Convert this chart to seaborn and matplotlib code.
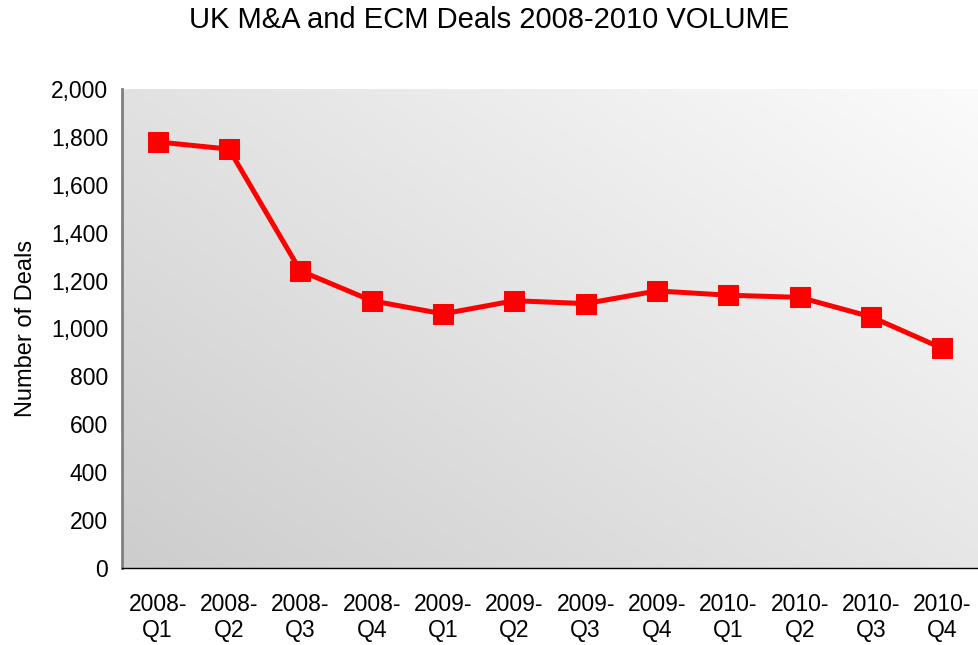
import numpy as np
import pandas as pd
import matplotlib
matplotlib.use("Agg")
import matplotlib.pyplot as plt
import seaborn as sns
from matplotlib.colors import LinearSegmentedColormap
from matplotlib.ticker import FuncFormatter, FixedLocator

categories = ["2008-\nQ1", "2008-\nQ2", "2008-\nQ3", "2008-\nQ4",
              "2009-\nQ1", "2009-\nQ2", "2009-\nQ3", "2009-\nQ4",
              "2010-\nQ1", "2010-\nQ2", "2010-\nQ3", "2010-\nQ4"]
deals = [1779, 1749, 1241, 1116, 1061, 1116, 1104, 1157, 1139, 1130, 1049, 917]
y_ticks = [0, 200, 400, 600, 800, 1000, 1200, 1400, 1600, 1800, 2000]

sns.set_style("white")
plt.rcParams['font.family'] = ['Liberation Sans', 'DejaVu Sans']
plt.rcParams['text.color'] = 'black'
plt.rcParams['axes.labelcolor'] = 'black'
plt.rcParams['xtick.color'] = 'black'
plt.rcParams['ytick.color'] = 'black'

fig = plt.figure(figsize=(9.79, 6.45), dpi=100)
ax = fig.add_axes([122/979, 77/645, 856/979, 479/645])

df = pd.DataFrame({"cat": categories, "deals": deals})
df["pos"] = np.arange(len(df))

# gradient background
ny, nx = 200, 200
xx, yy = np.meshgrid(np.linspace(0, 1, nx), np.linspace(0, 1, ny))
grad = (xx * 0.55 + yy * 0.45)
cmap = LinearSegmentedColormap.from_list("g", ["#cdcdcd", "#e4e4e4", "#fbfbfb"])
ax.imshow(grad, extent=[-0.5, len(categories) - 0.5, 0, 2000], origin="lower",
          cmap=cmap, aspect="auto", zorder=0)

sns.lineplot(data=df, x="pos", y="deals", ax=ax, color="#ff0000", lw=3.6,
             marker="s", markersize=15, markeredgecolor="#ff0000",
             markerfacecolor="#ff0000", zorder=3)

ax.set_xlim(-0.5, len(categories) - 0.5)
ax.set_ylim(0, 2000)
ax.set_yticks(y_ticks)
ax.yaxis.set_major_formatter(FuncFormatter(lambda v, p: f"{int(v):,}"))

ax.xaxis.set_major_locator(FixedLocator(np.arange(len(categories) + 1) - 0.5))
ax.xaxis.set_minor_locator(FixedLocator(np.arange(len(categories))))
ax.set_xticklabels([""] * (len(categories) + 1))
ax.set_xticklabels(categories, minor=True)
ax.tick_params(axis="x", which="major", length=6, width=1, color="black", direction="out")
ax.tick_params(axis="x", which="minor", length=0, labelsize=16.5, pad=18)
ax.tick_params(axis="y", length=6, width=1, color="black", direction="out", labelsize=16.5, pad=4)
for lbl in ax.get_xticklabels(minor=True):
    lbl.set_linespacing(1.15)

for s in ["top", "right"]:
    ax.spines[s].set_visible(False)
ax.spines["left"].set_color("#808080")
ax.spines["left"].set_linewidth(2)
ax.spines["bottom"].set_color("black")
ax.spines["bottom"].set_linewidth(1)

ax.set_xlabel("")
ax.set_ylabel("Number of Deals", fontsize=17, labelpad=10, color="black")
fig.text(0.5, 1 - 20/645, "UK M&A and ECM Deals 2008-2010 VOLUME", ha="center", va="center",
         fontsize=21, color="black")

fig.savefig("out.png", dpi=100)
